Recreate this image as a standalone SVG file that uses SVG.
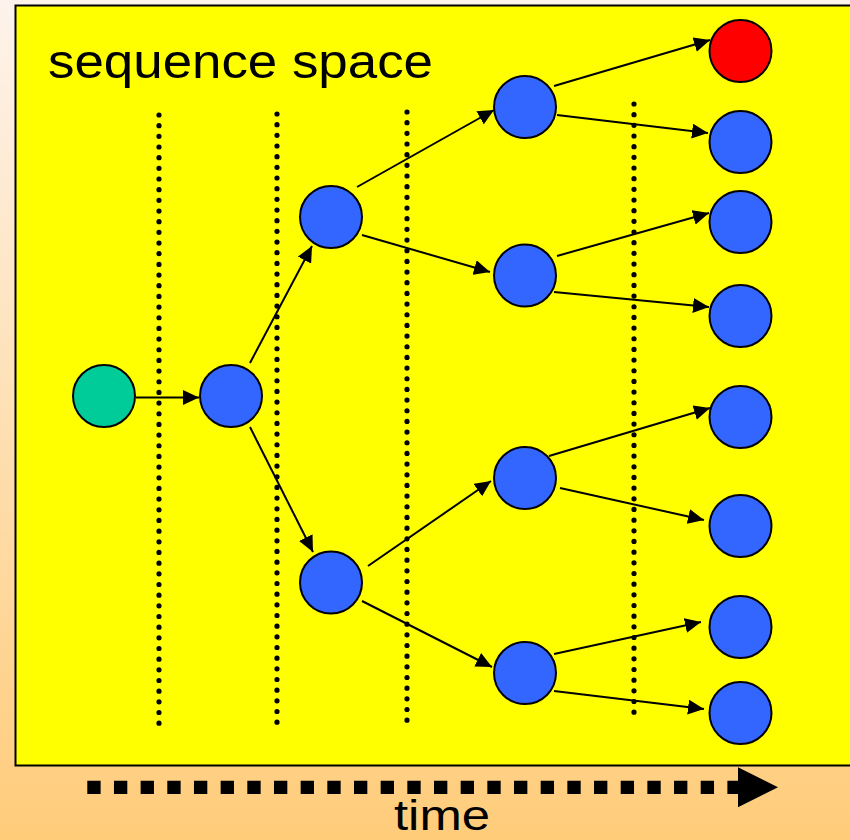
<svg xmlns="http://www.w3.org/2000/svg" width="850" height="840" viewBox="0 0 850 840">
  <defs>
    <linearGradient id="bg" x1="0" y1="0" x2="0" y2="1">
      <stop offset="0" stop-color="#FDF3EC"/>
      <stop offset="1" stop-color="#FFCC7A"/>
    </linearGradient>
    <marker id="arrow" markerUnits="userSpaceOnUse" markerWidth="16" markerHeight="15" refX="16" refY="7.5" orient="auto">
      <path d="M0,0 L16,7.5 L0,15 z" fill="#000"/>
    </marker>
  </defs>
  <style>
    .node { stroke: #000; stroke-width: 2; }
    .blue { fill: #3366FF; }
    .green { fill: #00CC99; }
    .red { fill: #FF0000; }
    .edge { stroke: #000; stroke-width: 2; fill: none; marker-end: url(#arrow); }
    .dots { stroke: #000; stroke-width: 5.2; stroke-linecap: round; stroke-dasharray: 0 10.67; }
    .label { font-family: "Liberation Sans", Arial, sans-serif; font-size: 48px; fill: #000; }
  </style>

  <!-- page background and the sequence-space panel -->
  <rect x="0" y="0" width="850" height="840" fill="url(#bg)"/>
  <rect x="15.5" y="5.5" width="850" height="760" fill="#FFFF00" stroke="#000" stroke-width="2"/>
  <text class="label" x="48" y="78" textLength="385" lengthAdjust="spacingAndGlyphs">sequence space</text>

  <!-- generation separators -->
  <g id="separators">
    <line class="dots" x1="159" y1="115" x2="159" y2="724"/>
    <line class="dots" x1="277" y1="114" x2="277" y2="723"/>
    <line class="dots" x1="407" y1="112" x2="407" y2="722"/>
    <line class="dots" x1="634" y1="104" x2="634" y2="713"/>
  </g>

  <!-- time axis -->
  <g id="time-axis">
    <line x1="87.3" y1="787.3" x2="741" y2="787.3" stroke="#000" stroke-width="13.3" stroke-dasharray="13.33 13.34"/>
    <polygon points="738,767.3 778,787.3 738,807.3" fill="#000"/>
    <text class="label" x="394" y="830" font-size="43" style="font-size:43px" textLength="96" lengthAdjust="spacingAndGlyphs">time</text>
  </g>

  <!-- connectors -->
  <g id="connectors">
    <line class="edge" x1="136" y1="397.5" x2="199" y2="397.5"/>
    <line class="edge" x1="250" y1="363" x2="312" y2="246"/>
    <line class="edge" x1="250" y1="427" x2="313" y2="552"/>
    <line class="edge" x1="357" y1="187" x2="494" y2="110"/>
    <line class="edge" x1="362" y1="235" x2="490" y2="272"/>
    <line class="edge" x1="368" y1="566" x2="491" y2="481"/>
    <line class="edge" x1="362" y1="601" x2="492" y2="667"/>
    <line class="edge" x1="554" y1="86" x2="710" y2="40"/>
    <line class="edge" x1="557" y1="115" x2="708" y2="133"/>
    <line class="edge" x1="557" y1="256" x2="709" y2="213"/>
    <line class="edge" x1="554" y1="292" x2="709" y2="307"/>
    <line class="edge" x1="549" y1="456" x2="710" y2="408"/>
    <line class="edge" x1="560" y1="488" x2="704" y2="520"/>
    <line class="edge" x1="554" y1="654" x2="701" y2="622"/>
    <line class="edge" x1="554" y1="691" x2="704" y2="709"/>
  </g>

  <!-- nodes -->
  <g id="n0"><circle class="node green" cx="104" cy="396" r="31"/></g>
  <g id="n1"><circle class="node blue" cx="231" cy="396" r="31"/></g>
  <g id="n2a"><circle class="node blue" cx="331" cy="217" r="31"/></g>
  <g id="n2b"><circle class="node blue" cx="331" cy="582.5" r="31"/></g>
  <g id="n3a"><circle class="node blue" cx="525" cy="107" r="31"/></g>
  <g id="n3b"><circle class="node blue" cx="525" cy="275.5" r="31"/></g>
  <g id="n3c"><circle class="node blue" cx="525" cy="478" r="31"/></g>
  <g id="n3d"><circle class="node blue" cx="525" cy="673" r="31"/></g>
  <g id="n4a"><circle class="node red" cx="740.5" cy="51" r="31"/></g>
  <g id="n4b"><circle class="node blue" cx="740.5" cy="142" r="31"/></g>
  <g id="n4c"><circle class="node blue" cx="740.5" cy="222" r="31"/></g>
  <g id="n4d"><circle class="node blue" cx="740.5" cy="316" r="31"/></g>
  <g id="n4e"><circle class="node blue" cx="740.5" cy="417" r="31"/></g>
  <g id="n4f"><circle class="node blue" cx="740.5" cy="526" r="31"/></g>
  <g id="n4g"><circle class="node blue" cx="740.5" cy="627" r="31"/></g>
  <g id="n4h"><circle class="node blue" cx="740.5" cy="713" r="31"/></g>
</svg>
